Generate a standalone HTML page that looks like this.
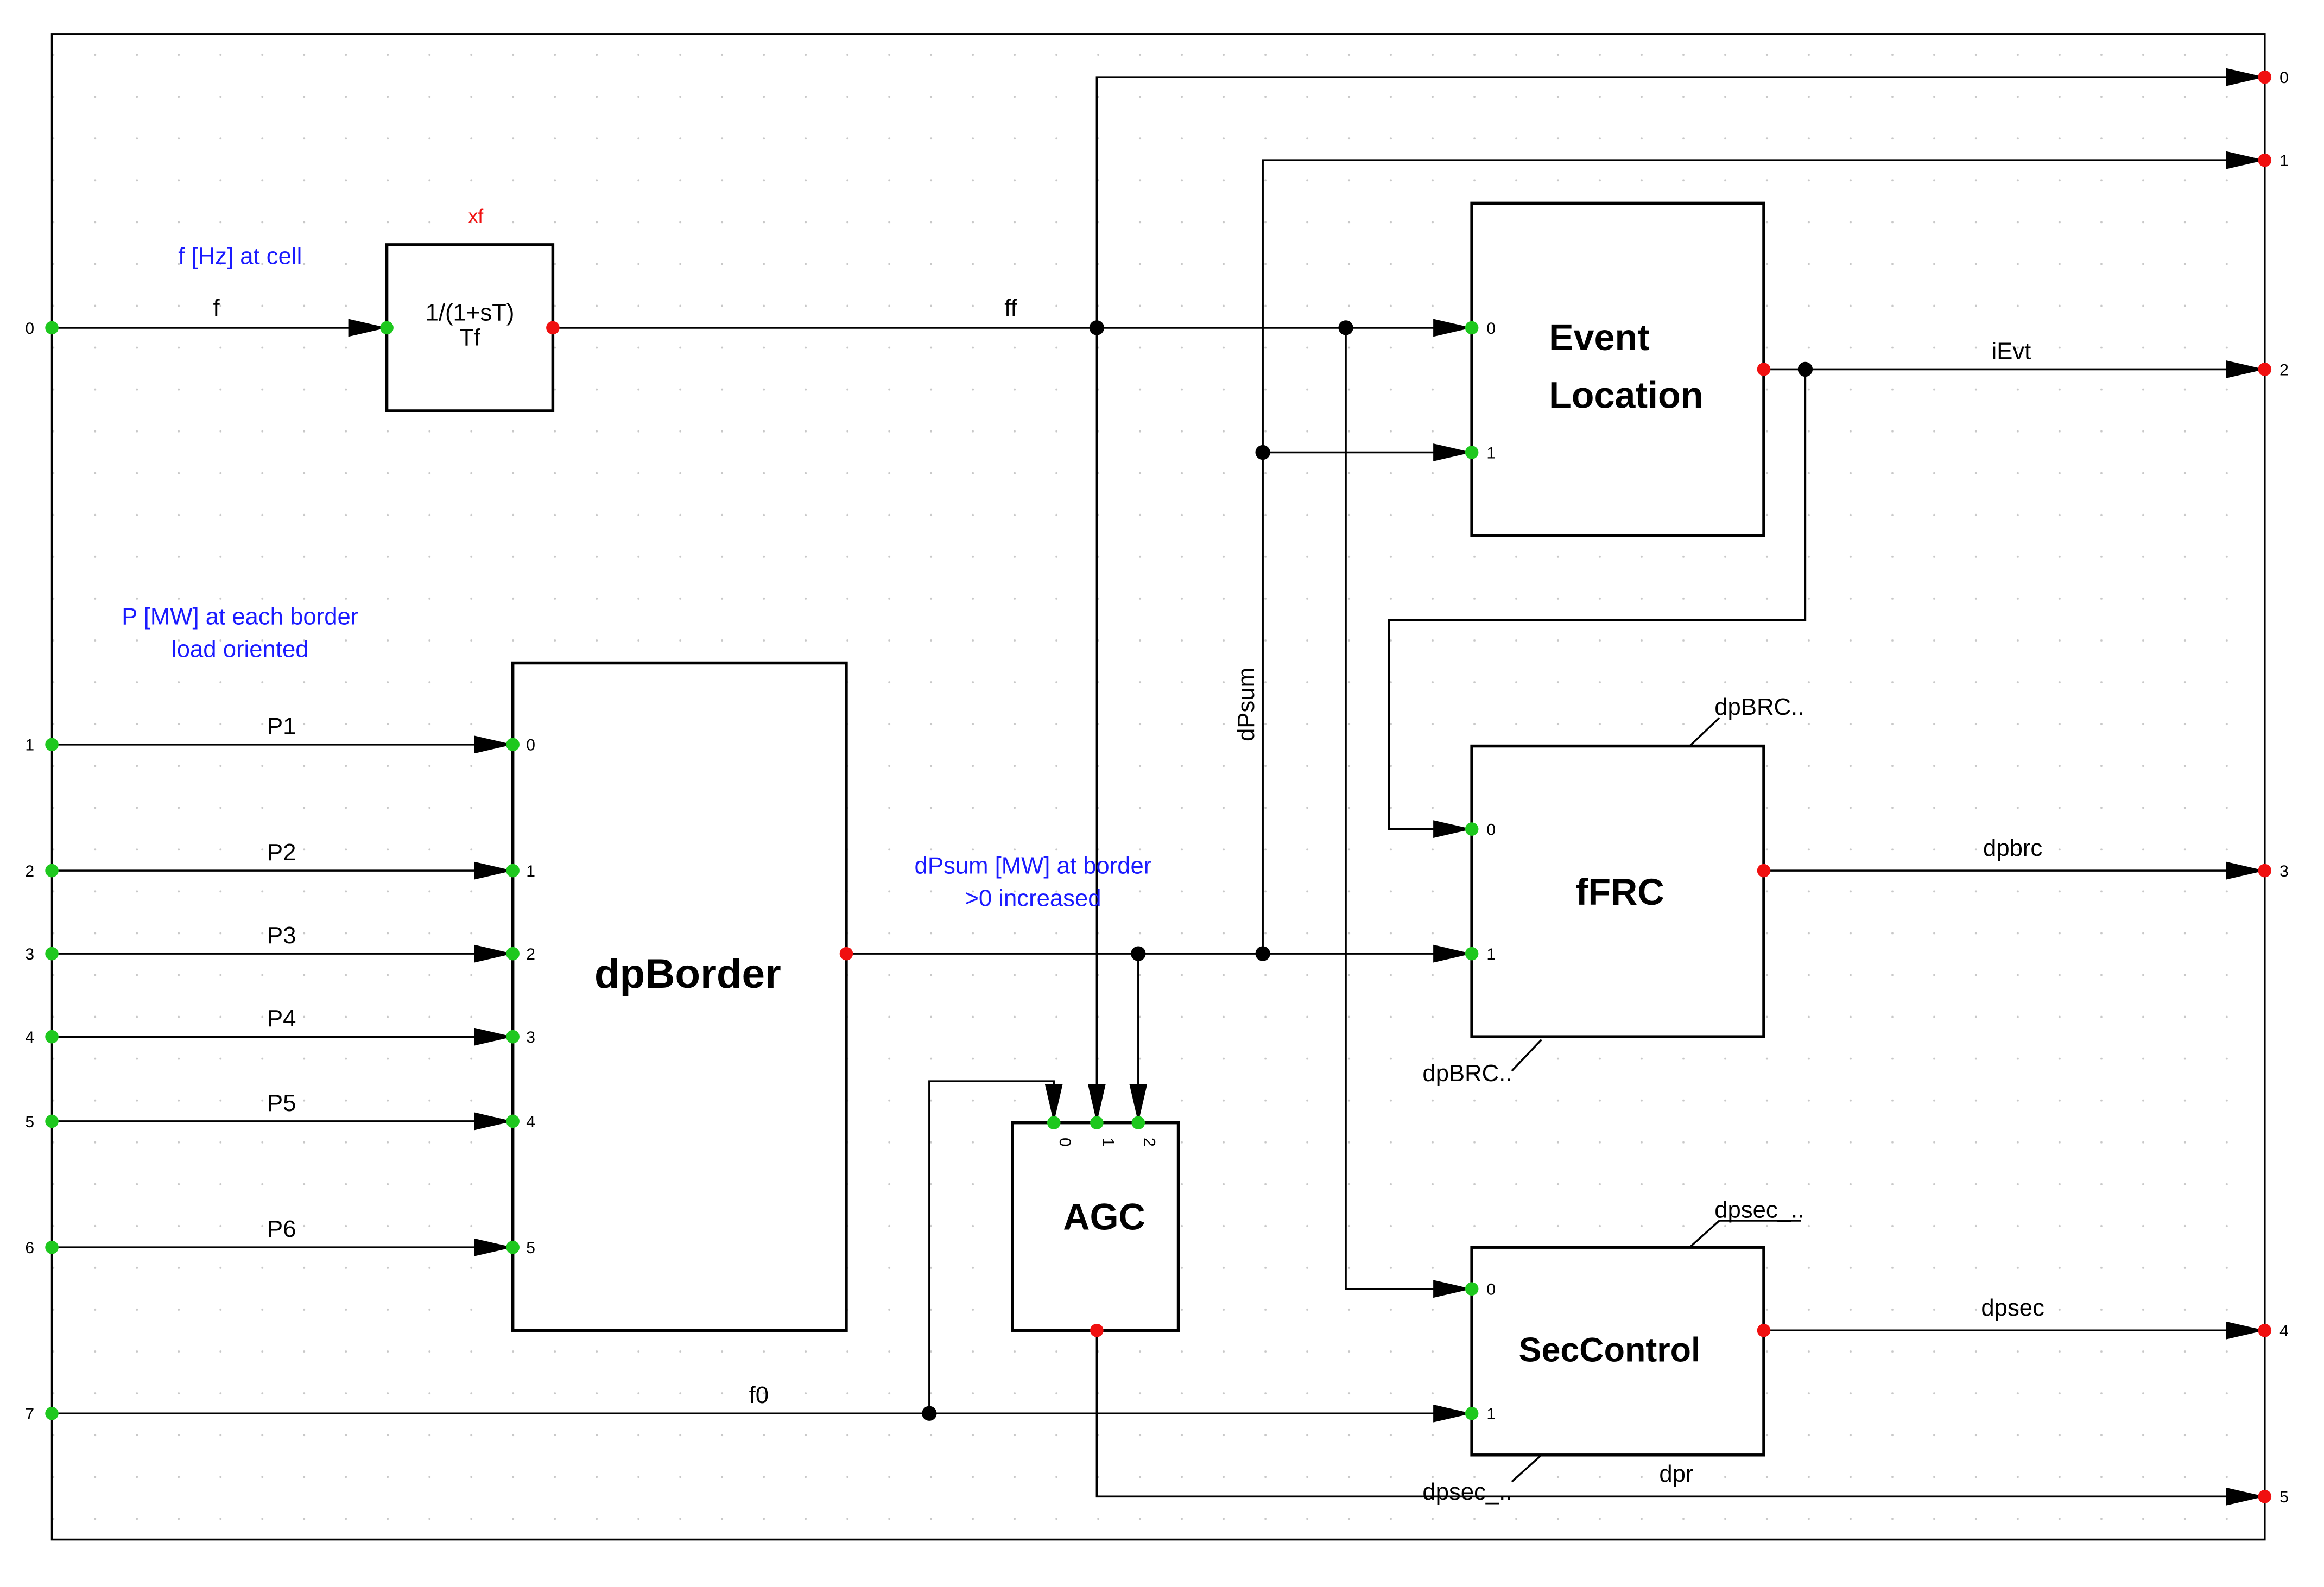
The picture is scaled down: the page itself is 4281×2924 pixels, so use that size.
<!DOCTYPE html>
<html><head><meta charset="utf-8"><style>
html,body{margin:0;padding:0;background:#fff}
svg{display:block}
text{font-family:"Liberation Sans",sans-serif}
</style></head><body>
<svg width="4281" height="2924" viewBox="0 0 1568 1070" preserveAspectRatio="none" xmlns="http://www.w3.org/2000/svg">
<defs>
<pattern id="g" width="28.2" height="28.2" patternUnits="userSpaceOnUse" x="7" y="8">
<circle cx="0.8" cy="0.8" r="0.7" fill="#c8c8c8"/></pattern>
<marker id="a" markerWidth="26" markerHeight="12" refX="26" refY="6" orient="auto" markerUnits="userSpaceOnUse">
<path d="M0,0 L26,6 L0,12 Z" fill="#000"/></marker>
</defs>
<rect x="35" y="23" width="1493" height="1015" fill="url(#g)"/>
<rect x="35" y="23" width="1493" height="1015" fill="none" stroke="#000" stroke-width="1.3"/>
<g stroke="#000" stroke-width="1.3" fill="none">
<line x1="35" y1="221" x2="261" y2="221" marker-end="url(#a)"/>
<line x1="373" y1="221" x2="993" y2="221" marker-end="url(#a)"/>
<polyline points="740,221 740,52 1528,52" marker-end="url(#a)"/>
<line x1="740" y1="221" x2="740" y2="757" marker-end="url(#a)"/>
<polyline points="852,643 852,108 1528,108" marker-end="url(#a)"/>
<line x1="852" y1="305" x2="993" y2="305" marker-end="url(#a)"/>
<polyline points="908,221 908,869 993,869" marker-end="url(#a)"/>
<line x1="1190" y1="249" x2="1528" y2="249" marker-end="url(#a)"/>
<polyline points="1218,249 1218,418 937,418 937,559 993,559" marker-end="url(#a)"/>
<line x1="1190" y1="587" x2="1528" y2="587" marker-end="url(#a)"/>
<line x1="1190" y1="897" x2="1528" y2="897" marker-end="url(#a)"/>
<line x1="571" y1="643" x2="993" y2="643" marker-end="url(#a)"/>
<line x1="768" y1="643" x2="768" y2="757" marker-end="url(#a)"/>
<polyline points="740,897 740,1009 1528,1009" marker-end="url(#a)"/>
<line x1="35" y1="953" x2="993" y2="953" marker-end="url(#a)"/>
<polyline points="627,953 627,729 711,729 711,757" marker-end="url(#a)"/>
<line x1="35" y1="502" x2="346" y2="502" marker-end="url(#a)"/>
<line x1="35" y1="587" x2="346" y2="587" marker-end="url(#a)"/>
<line x1="35" y1="643" x2="346" y2="643" marker-end="url(#a)"/>
<line x1="35" y1="699" x2="346" y2="699" marker-end="url(#a)"/>
<line x1="35" y1="756" x2="346" y2="756" marker-end="url(#a)"/>
<line x1="35" y1="841" x2="346" y2="841" marker-end="url(#a)"/>
<line x1="1140" y1="503" x2="1160" y2="484"/>
<line x1="1040" y1="701" x2="1020" y2="722"/>
<line x1="1140" y1="841" x2="1160" y2="823"/><line x1="1160" y1="823" x2="1215" y2="823"/>
<line x1="1040" y1="981" x2="1020" y2="999"/>
</g>
<g stroke="#000" stroke-width="2" fill="#fff">
<rect x="261" y="165" width="112" height="112"/>
<rect x="993" y="137" width="197" height="224"/>
<rect x="993" y="503" width="197" height="196"/>
<rect x="346" y="447" width="225" height="450"/>
<rect x="683" y="757" width="112" height="140"/>
<rect x="993" y="841" width="197" height="140"/>
</g>
<g fill="#000">
<circle cx="740" cy="221" r="5"/><circle cx="908" cy="221" r="5"/>
<circle cx="852" cy="305" r="5"/><circle cx="852" cy="643" r="5"/>
<circle cx="768" cy="643" r="5"/><circle cx="1218" cy="249" r="5"/>
<circle cx="627" cy="953" r="5"/>
</g>
<g fill="#1ec81e">
<circle cx="35" cy="221" r="4.5"/><circle cx="35" cy="502" r="4.5"/><circle cx="35" cy="587" r="4.5"/>
<circle cx="35" cy="643" r="4.5"/><circle cx="35" cy="699" r="4.5"/><circle cx="35" cy="756" r="4.5"/>
<circle cx="35" cy="841" r="4.5"/><circle cx="35" cy="953" r="4.5"/>
<circle cx="261" cy="221" r="4.5"/>
<circle cx="346" cy="502" r="4.5"/><circle cx="346" cy="587" r="4.5"/><circle cx="346" cy="643" r="4.5"/>
<circle cx="346" cy="699" r="4.5"/><circle cx="346" cy="756" r="4.5"/><circle cx="346" cy="841" r="4.5"/>
<circle cx="993" cy="221" r="4.5"/><circle cx="993" cy="305" r="4.5"/>
<circle cx="993" cy="559" r="4.5"/><circle cx="993" cy="643" r="4.5"/>
<circle cx="993" cy="869" r="4.5"/><circle cx="993" cy="953" r="4.5"/>
<circle cx="711" cy="757" r="4.5"/><circle cx="740" cy="757" r="4.5"/><circle cx="768" cy="757" r="4.5"/>
</g>
<g fill="#f01010">
<circle cx="373" cy="221" r="4.5"/><circle cx="571" cy="643" r="4.5"/><circle cx="740" cy="897" r="4.5"/>
<circle cx="1190" cy="249" r="4.5"/><circle cx="1190" cy="587" r="4.5"/><circle cx="1190" cy="897" r="4.5"/>
<circle cx="1528" cy="52" r="4.5"/><circle cx="1528" cy="108" r="4.5"/><circle cx="1528" cy="249" r="4.5"/>
<circle cx="1528" cy="587" r="4.5"/><circle cx="1528" cy="897" r="4.5"/><circle cx="1528" cy="1009" r="4.5"/>
</g>
<g font-size="11" fill="#000">
<text x="17" y="225">0</text><text x="17" y="506">1</text><text x="17" y="591">2</text><text x="17" y="647">3</text>
<text x="17" y="703">4</text><text x="17" y="760">5</text><text x="17" y="845">6</text><text x="17" y="957">7</text>
<text x="355" y="506">0</text><text x="355" y="591">1</text><text x="355" y="647">2</text>
<text x="355" y="703">3</text><text x="355" y="760">4</text><text x="355" y="845">5</text>
<text x="1003" y="225">0</text><text x="1003" y="309">1</text><text x="1003" y="563">0</text><text x="1003" y="647">1</text>
<text x="1003" y="873">0</text><text x="1003" y="957">1</text>
<text x="1538" y="56">0</text><text x="1538" y="112">1</text><text x="1538" y="253">2</text>
<text x="1538" y="591">3</text><text x="1538" y="901">4</text><text x="1538" y="1013">5</text>
<text transform="translate(715,767) rotate(90)">0</text>
<text transform="translate(744,767) rotate(90)">1</text>
<text transform="translate(772,767) rotate(90)">2</text>
</g>
<g font-size="16" fill="#000" text-anchor="middle">
<text x="146" y="213">f</text><text x="682" y="213">ff</text>
<text x="317" y="216">1/(1+sT)</text><text x="317" y="233">Tf</text>
<text x="190" y="495">P1</text><text x="190" y="580">P2</text><text x="190" y="636">P3</text>
<text x="190" y="692">P4</text><text x="190" y="749">P5</text><text x="190" y="834">P6</text>
<text x="512" y="946">f0</text>
<text x="1357" y="242">iEvt</text><text x="1358" y="577">dpbrc</text><text x="1358" y="887">dpsec</text>
<text x="1131" y="999">dpr</text>
<text x="1187" y="482">dpBRC..</text><text x="990" y="729">dpBRC..</text>
<text x="1187" y="821">dpsec_..</text><text x="990" y="1011">dpsec_..</text>
<text transform="translate(846,475) rotate(-90)">dPsum</text>
</g>
<text x="321" y="150" font-size="13" fill="#f01010" text-anchor="middle">xf</text>
<g font-size="16" fill="#1a1aff" text-anchor="middle">
<text x="162" y="178">f [Hz] at cell</text>
<text x="162" y="421">P [MW] at each border</text><text x="162" y="443">load oriented</text>
<text x="697" y="589">dPsum [MW] at border</text><text x="697" y="611">&gt;0 increased</text>
</g>
<g font-size="25" font-weight="bold" fill="#000">
<text x="1045" y="236">Event</text>
<text x="1045" y="275">Location</text>
<text x="1093" y="610" text-anchor="middle">fFRC</text>
<text x="464" y="666" text-anchor="middle" font-size="28">dpBorder</text>
<text x="745" y="829" text-anchor="middle">AGC</text>
<text x="1086" y="918" text-anchor="middle" font-size="23">SecControl</text>
</g>
</svg>
</body></html>
